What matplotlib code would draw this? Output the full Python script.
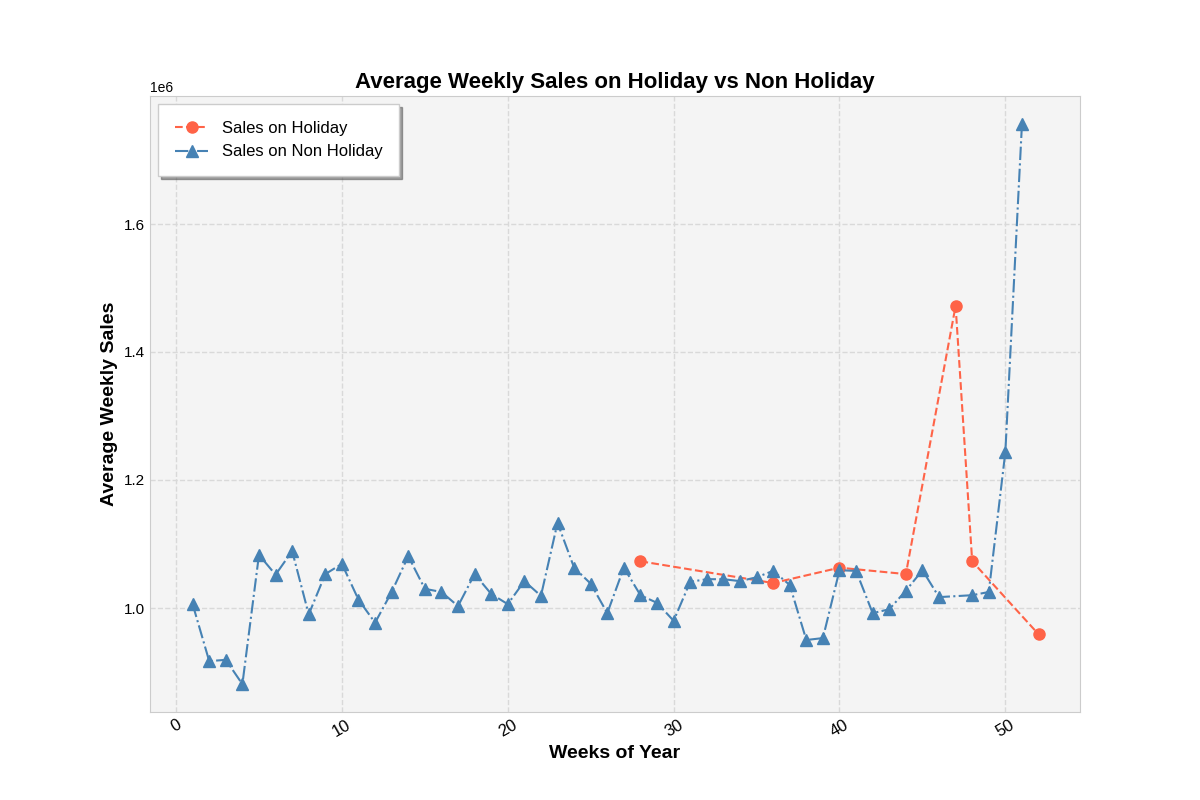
import matplotlib.pyplot as plt

weeks_non = list(range(1, 47)) + [48, 49, 50, 51]
sales_non = [1.006, 0.917, 0.919, 0.881, 1.083, 1.052, 1.089, 0.990, 1.053, 1.069,
             1.013, 0.977, 1.025, 1.081, 1.030, 1.025, 1.003, 1.053, 1.022, 1.006,
             1.042, 1.019, 1.133, 1.063, 1.038, 0.992, 1.063, 1.020, 1.008, 0.980,
             1.041, 1.045, 1.045, 1.042, 1.048, 1.058, 1.036, 0.950, 0.953, 1.059,
             1.058, 0.992, 0.998, 1.027, 1.059, 1.017, 1.020, 1.025, 1.244, 1.756]
sales_non = [v * 1e6 for v in sales_non]

weeks_hol = [28, 36, 40, 44, 47, 48, 52]
sales_hol = [1.073, 1.039, 1.063, 1.053, 1.472, 1.073, 0.959]
sales_hol = [v * 1e6 for v in sales_hol]

plt.rcParams['font.family'] = ['Liberation Sans', 'DejaVu Sans']
fig, ax = plt.subplots(figsize=(12, 8), dpi=100)
ax.set_facecolor('#f4f4f4')
for s in ax.spines.values():
    s.set_color('#cccccc')

ax.plot(weeks_hol, sales_hol, '--o', color='#ff6347', markersize=8, label='Sales on Holiday')
ax.plot(weeks_non, sales_non, '-.^', color='#4682b4', markersize=8, label='Sales on Non Holiday')

ax.grid(True, linestyle='--', color='#d9d9d9', linewidth=1)
ax.set_xlim(-1.57, 54.5)
ax.set_ylim(0.8375e6, 1.8e6)
ax.set_yticks([1.0e6, 1.2e6, 1.4e6, 1.6e6])
ax.tick_params(axis='x', rotation=30, labelsize=12, length=0)
ax.tick_params(axis='y', labelsize=11, length=0)

ax.set_title('Average Weekly Sales on Holiday vs Non Holiday', fontsize=16, fontweight='bold')
ax.set_xlabel('Weeks of Year', fontsize=14, fontweight='bold')
ax.set_ylabel('Average Weekly Sales', fontsize=14, fontweight='bold')
ax.legend(loc='upper left', fontsize=12, shadow=True, fancybox=False, borderpad=1, facecolor='white')

plt.savefig('out.png')
